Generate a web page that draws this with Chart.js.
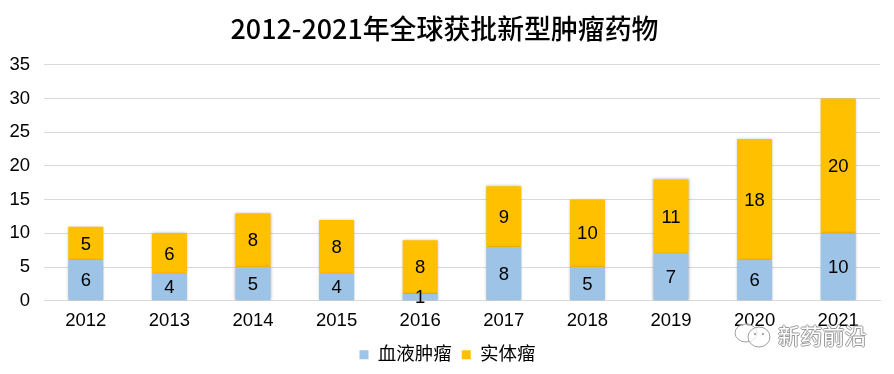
<!DOCTYPE html>
<html><head><meta charset="utf-8">
<script src="https://cdn.jsdelivr.net/npm/chart.js@4"></script>
<style>
html,body{margin:0;padding:0;background:#fff;width:894px;height:374px;overflow:hidden}
#w{position:relative;width:894px;height:374px}
#mark{position:absolute;left:778px;top:319px;font:22px "Noto Sans CJK SC";color:#fff;letter-spacing:0.2px;line-height:30px;
text-shadow:-1px 0 #9a9a9a,1px 0 #9a9a9a,0 -1px #9a9a9a,0 1px #9a9a9a}
#logo{position:absolute;left:734px;top:322px}
</style></head><body><div id="w"><canvas id="c" width="894" height="374"></canvas>
<svg id="logo" width="38" height="28" viewBox="0 0 38 28"><g fill="rgba(255,255,255,.7)" stroke="#a0a0a0" stroke-width="1"><ellipse cx="12" cy="11" rx="11" ry="9"/><ellipse cx="25" cy="15" rx="11" ry="10"/></g><circle cx="21" cy="12" r="1.2" fill="#aaa"/><circle cx="29" cy="12" r="1.2" fill="#aaa"/></svg>
<div id="mark">新药前沿</div></div>
<script>
const categories=["2012","2013","2014","2015","2016","2017","2018","2019","2020","2021"];
const hematologic=[6,4,5,4,1,8,5,7,6,10];
const solid=[5,6,8,8,8,9,10,11,18,20];
const seriesNames=["血液肿瘤","实体瘤"];
const titleText="2012-2021年全球获批新型肿瘤药物";
const FONT='"Liberation Sans","Noto Sans CJK SC",sans-serif';
const labels={id:'labels',afterDatasetsDraw(ch){const c=ch.ctx;c.save();c.fillStyle='#000';c.font='18.5px "Liberation Sans"';c.textAlign='center';c.textBaseline='middle';
ch.data.datasets.forEach((d,i)=>{ch.getDatasetMeta(i).data.forEach((b,j)=>{c.fillText(d.data[j],b.x,(b.y+b.base)/2+1);});});c.restore();}};
const shadow={id:'shadow',beforeDatasetsDraw(ch){const c=ch.ctx;c.save();c.shadowColor='rgba(0,0,0,.3)';c.shadowBlur=3;},afterDatasetsDraw(ch){ch.ctx.restore();}};
const shiftLegend={id:'shiftLegend',afterLayout(ch){ch.legend.left+=3;ch.legend.right+=3;}};
new Chart(document.getElementById('c'),{type:'bar',
data:{labels:categories,datasets:[
{label:seriesNames[0],data:hematologic,backgroundColor:'#9dc3e6',stack:'s'},
{label:seriesNames[1],data:solid,backgroundColor:'#ffc000',stack:'s'}]},
plugins:[shadow,labels,shiftLegend],
options:{responsive:false,animation:false,
layout:{padding:{left:9,right:14,top:13,bottom:0}},
scales:{
x:{stacked:true,grid:{display:false,drawTicks:false},border:{color:'#d9d9d9'},
afterFit(s){s.height-=5.5;},
ticks:{color:'#000',font:{size:18.5,family:FONT},padding:9,maxRotation:0}},
y:{stacked:true,min:0,max:35,grid:{color:'#d9d9d9',drawTicks:false},border:{display:false},
afterFit(s){s.width=35;},
ticks:{stepSize:5,color:'#000',font:{size:18.5,family:FONT},padding:14}}},
datasets:{bar:{barPercentage:.42,categoryPercentage:1}},
plugins:{
title:{display:true,text:titleText,color:'#000',font:{size:26.9,weight:'500',family:'"Noto Sans CJK SC"'},padding:{top:0,bottom:19.6}},
legend:{position:'bottom',labels:{boxWidth:9,boxHeight:9,color:'#000',font:{size:18.5,family:FONT},padding:10}},
tooltip:{enabled:false}}}});
</script></body></html>
